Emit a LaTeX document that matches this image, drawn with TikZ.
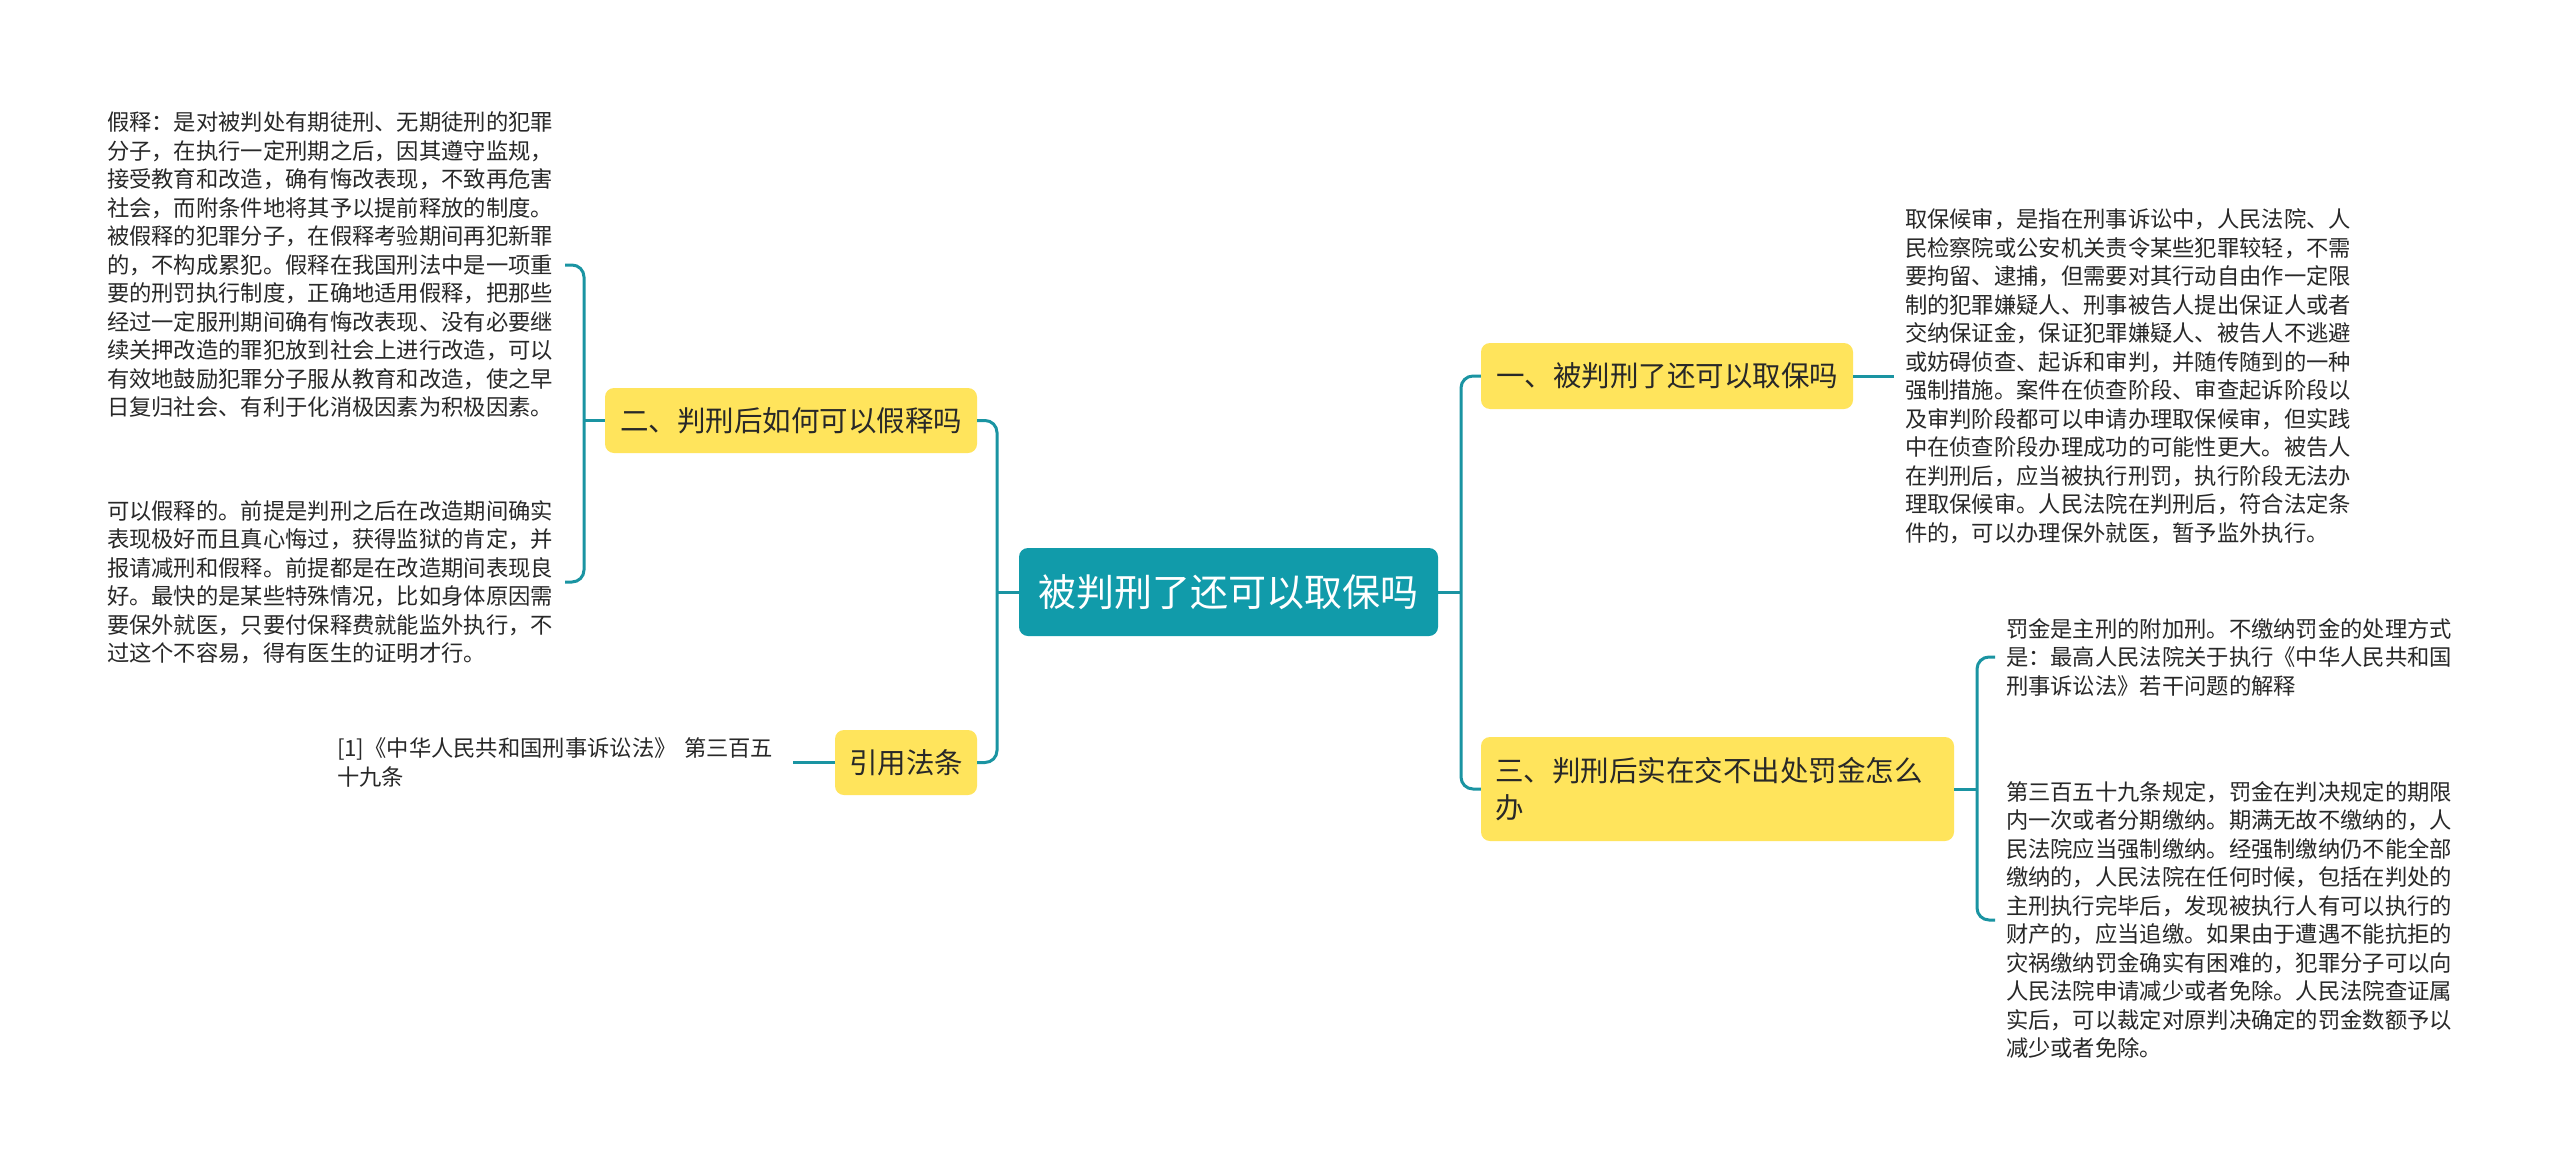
\documentclass[tikz,border=0pt]{standalone}
\usepackage{fontspec}
\setmainfont{Noto Sans CJK SC}
\definecolor{teal1}{RGB}{17,155,170}
\definecolor{lineC}{RGB}{26,148,162}
\definecolor{yel}{RGB}{255,228,92}
\definecolor{txt}{RGB}{40,40,40}
\begin{document}
\begin{tikzpicture}[x=1pt,y=-1pt,
 conn/.style={draw=lineC,line width=3pt,rounded corners=12pt},
 topic/.style={fill=yel,rounded corners=9pt,text=txt,font=\fontsize{28.5}{37}\selectfont,inner sep=0pt,align=center},
 leaf/.style={text=txt,font=\fontsize{22.3}{28.5}\selectfont,align=left,text width=447pt,inner sep=0pt,outer xsep=11pt,anchor=west}]
\useasboundingbox (0,0) rectangle (2560,1167);
\fill[white] (0,0) rectangle (2560,1167);

\node[fill=teal1,rounded corners=9pt,minimum width=419pt,minimum height=88pt,text=white,font=\fontsize{38}{44}\selectfont,inner sep=0pt] (c) at (1228.5,592) {被判刑了还可以取保吗};

\node[topic,minimum width=372pt,minimum height=66pt] (n1) at (1667,376) {一、被判刑了还可以取保吗};
\node[topic,minimum width=372pt,minimum height=65pt] (n2) at (791,420.5) {二、判刑后如何可以假释吗};
\node[topic,minimum width=142pt,minimum height=65pt] (n4) at (906,762.5) {引用法条};
\node[topic,minimum width=473pt,minimum height=104pt,text width=445pt,align=left] (n3) at (1717.5,789) {三、判刑后实在交不出处罚金怎么\\办};

\node[leaf] (a1) at (96,265) {假释：是对被判处有期徒刑、无期徒刑的犯罪\\分子，在执行一定刑期之后，因其遵守监规，\\接受教育和改造，确有悔改表现，不致再危害\\社会，而附条件地将其予以提前释放的制度。\\被假释的犯罪分子，在假释考验期间再犯新罪\\的，不构成累犯。假释在我国刑法中是一项重\\要的刑罚执行制度，正确地适用假释，把那些\\经过一定服刑期间确有悔改表现、没有必要继\\续关押改造的罪犯放到社会上进行改造，可以\\有效地鼓励犯罪分子服从教育和改造，使之早\\日复归社会、有利于化消极因素为积极因素。};
\node[leaf] (a2) at (96,582) {可以假释的。前提是判刑之后在改造期间确实\\表现极好而且真心悔过，获得监狱的肯定，并\\报请减刑和假释。前提都是在改造期间表现良\\好。最快的是某些特殊情况，比如身体原因需\\要保外就医，只要付保释费就能监外执行，不\\过这个不容易，得有医生的证明才行。};
\node[leaf,text width=445pt] (a3) at (326,762.5) {[1]《中华人民共和国刑事诉讼法》 第三百五\\十九条};

\node[leaf] (b1) at (1894,376) {取保候审，是指在刑事诉讼中，人民法院、人\\民检察院或公安机关责令某些犯罪较轻，不需\\要拘留、逮捕，但需要对其行动自由作一定限\\制的犯罪嫌疑人、刑事被告人提出保证人或者\\交纳保证金，保证犯罪嫌疑人、被告人不逃避\\或妨碍侦查、起诉和审判，并随传随到的一种\\强制措施。案件在侦查阶段、审查起诉阶段以\\及审判阶段都可以申请办理取保候审，但实践\\中在侦查阶段办理成功的可能性更大。被告人\\在判刑后，应当被执行刑罚，执行阶段无法办\\理取保候审。人民法院在判刑后，符合法定条\\件的，可以办理保外就医，暂予监外执行。};
\node[leaf] (b2) at (1995,657) {罚金是主刑的附加刑。不缴纳罚金的处理方式\\是：最高人民法院关于执行《中华人民共和国\\刑事诉讼法》若干问题的解释};
\node[leaf] (b3) at (1995,920) {第三百五十九条规定，罚金在判决规定的期限\\内一次或者分期缴纳。期满无故不缴纳的，人\\民法院应当强制缴纳。经强制缴纳仍不能全部\\缴纳的，人民法院在任何时候，包括在判处的\\主刑执行完毕后，发现被执行人有可以执行的\\财产的，应当追缴。如果由于遭遇不能抗拒的\\灾祸缴纳罚金确实有困难的，犯罪分子可以向\\人民法院申请减少或者免除。人民法院查证属\\实后，可以裁定对原判决确定的罚金数额予以\\减少或者免除。};

\coordinate (jR) at (1461,592);
\coordinate (jL) at (997,592);
\coordinate (kL) at (584,420.5);
\coordinate (kR) at (1977,789);

\draw[conn] (c.east) -- (jR);
\draw[conn] (n1.west) -| (jR) |- (n3.west);
\draw[conn] (c.west) -- (jL);
\draw[conn] (n2.east) -| (jL) |- (n4.east);
\draw[conn] (n2.west) -- (kL);
\draw[conn] (a1.east) -| (kL) |- (a2.east);
\draw[conn] (n4.west) -- (a3.east);
\draw[conn] (n1.east) -- (b1.west);
\draw[conn] (n3.east) -- (kR);
\draw[conn] (b2.west) -| (kR) |- (b3.west);
\end{tikzpicture}
\end{document}
